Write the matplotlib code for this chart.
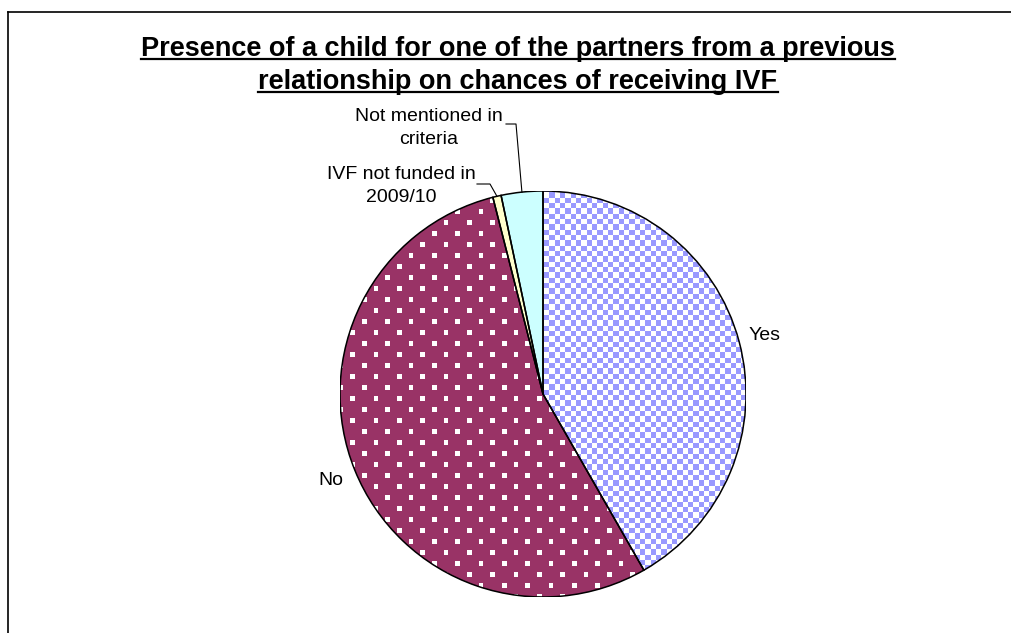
import numpy as np
import matplotlib
matplotlib.use('Agg')
import matplotlib.pyplot as plt
from matplotlib.patches import Wedge
from matplotlib.lines import Line2D

# ---- data ----
categories = ['Yes', 'No', 'IVF not funded in\n2009/10', 'Not mentioned in\ncriteria']
values = [63, 82, 1, 5]
title_lines = ['Presence of a child for one of the partners from a previous',
               'relationship on chances of receiving IVF']
colors = ['#9999FF', '#993366', '#FFFFCC', '#CCFFFF']

plt.rcParams['font.family'] = ['Liberation Sans', 'DejaVu Sans']

W, H = 1012, 633
fig = plt.figure(figsize=(W / 100, H / 100), dpi=100)

# pie geometry (pixels)
cx, cy, R = 543, 394, 203
ax = fig.add_axes([(cx - R) / W, (H - cy - R) / H, 2 * R / W, 2 * R / H])

wedges, _ = ax.pie(values, colors=colors, startangle=90, counterclock=False, radius=1,
                   wedgeprops=dict(edgecolor='none', linewidth=0))

# ---- fill patterns (pixel grids) ----
N = 2 * R
yy, xx = np.mgrid[0:N, 0:N]
px = xx + (cx - R)
py = yy + (cy - R)

# checkerboard for "Yes"
cs = 5.33
chk = ((np.floor(px / cs) + np.floor(py / cs)) % 2).astype(bool)
img_yes = np.ones((N, N, 3))
blue = np.array([0x99, 0x99, 0xFF]) / 255
img_yes[chk] = blue

# white dots for "No"
rowh = 11.0
colw = 23.33
ds = 4.6
ry = np.floor(py / rowh)
shift = (ry % 2) * (colw / 2)
dots = (((px - shift) % colw) < ds) & ((py % rowh) < ds)
img_no = np.ones((N, N, 3)) * (np.array([0x99, 0x33, 0x66]) / 255)
img_no[dots] = 1.0

for img, w in ((img_yes, wedges[0]), (img_no, wedges[1])):
    im = ax.imshow(img, extent=(-1, 1, -1, 1), interpolation='nearest', zorder=2)
    im.set_clip_path(w)

for w in wedges:
    ax.add_patch(Wedge(w.center, w.r, w.theta1, w.theta2, fill=False,
                       edgecolor='black', linewidth=1.1, zorder=3))

ax.set_xlim(-1, 1)
ax.set_ylim(-1, 1)
ax.set_aspect('auto')
ax.axis('off')

lab_fs = 14


def mid(w):
    a = np.deg2rad((w.theta1 + w.theta2) / 2)
    return np.cos(a), np.sin(a)


# big slice labels
for i in (0, 1):
    mx, my = mid(wedges[i])
    ax.text(1.13 * mx, 1.13 * my, categories[i], ha='center', va='center',
            fontsize=lab_fs, clip_on=False)


def p2d(x, y):
    return (x - cx) / R, (cy - y) / R


# small slice labels with leader lines
small = {2: ((401, 186), [(477, 184), (490, 184)]),
         3: ((429, 128), [(506, 124), (516, 124)])}
for i, (tpos, pts) in small.items():
    tx, ty = p2d(*tpos)
    ax.text(tx, ty, categories[i], ha='center', va='center', fontsize=lab_fs,
            linespacing=1.5, clip_on=False)
    mx, my = mid(wedges[i])
    xs = [p2d(*p)[0] for p in pts] + [mx]
    ys = [p2d(*p)[1] for p in pts] + [my]
    ax.plot(xs, ys, color='black', lw=0.8, clip_on=False, zorder=4)

# ---- title with underline ----
title_base = [56, 89]
tx_center = 518
texts = []
for line, yb in zip(title_lines, title_base):
    t = fig.text(tx_center / W, 1 - yb / H, line, ha='center', va='baseline',
                 fontsize=19.5, fontweight='bold')
    texts.append((t, yb))
fig.canvas.draw()
r = fig.canvas.get_renderer()
for t, yb in texts:
    bb = t.get_window_extent(renderer=r)
    yl = 1 - (yb + 3) / H
    fig.add_artist(Line2D([bb.x0 / W, bb.x1 / W], [yl, yl], transform=fig.transFigure,
                          color='black', lw=1.6))

# ---- chart frame (top & left edges visible) ----
fig.add_artist(Line2D([8 / W, 8 / W], [0, 1 - 12 / H], transform=fig.transFigure,
                      color='black', lw=1.2))
fig.add_artist(Line2D([8 / W, 1], [1 - 12 / H, 1 - 12 / H], transform=fig.transFigure,
                      color='black', lw=1.2))

fig.savefig('out.png', dpi=100, facecolor='white')
